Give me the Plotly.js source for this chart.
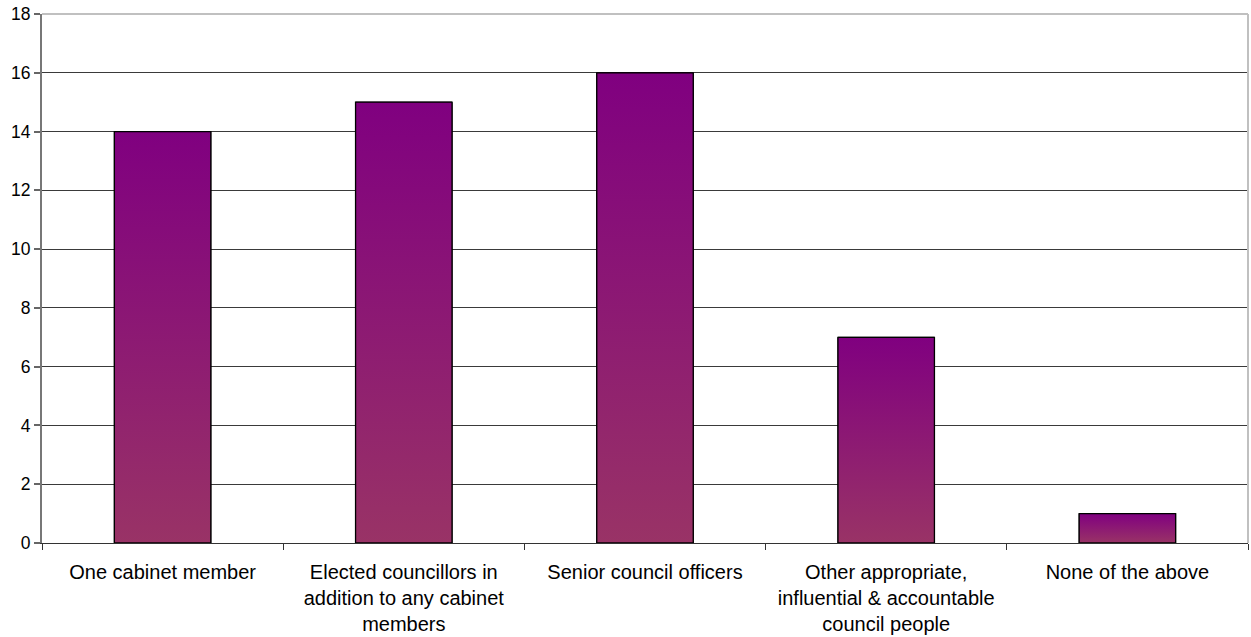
<!DOCTYPE html>
<html>
<head>
<meta charset="utf-8">
<script src="https://cdn.plot.ly/plotly-3.0.1.min.js"></script>
<style>html,body{margin:0;padding:0;background:#fff}#chart{width:1251px;height:637px}</style>
</head>
<body>
<div id="chart"></div>
<script>
const categories = [
  "One cabinet member",
  "Elected councillors in addition to any cabinet members",
  "Senior council officers",
  "Other appropriate, influential & accountable council people",
  "None of the above"
];
const tickLabels = [
  "One cabinet member",
  "Elected councillors in<br>addition to any cabinet<br>members",
  "Senior council officers",
  "Other appropriate,<br>influential & accountable<br>council people",
  "None of the above"
];
const counts = [14, 15, 16, 7, 1];
const yTicks = [0, 2, 4, 6, 8, 10, 12, 14, 16, 18];

const BAR_W = 0.4;
const traces = [{
  type: 'bar',
  x: categories,
  y: counts,
  width: BAR_W,
  marker: {color: '#8c1f74', line: {color: '#000', width: 1}},
  hoverinfo: 'x+y'
}];
// gradient overlay for each bar, positioned by category index on a matching linear axis
counts.forEach(function (v, i) {
  traces.push({
    type: 'scatter',
    xaxis: 'x2', yaxis: 'y',
    x: [i - BAR_W / 2, i + BAR_W / 2, i + BAR_W / 2, i - BAR_W / 2, i - BAR_W / 2],
    y: [0, 0, v, v, 0],
    mode: 'lines',
    fill: 'toself',
    fillgradient: {type: 'vertical', colorscale: [[0, '#993366'], [1, '#800080']]},
    line: {color: '#000', width: 1.3},
    hoverinfo: 'skip',
    showlegend: false
  });
});

const layout = {
  width: 1251, height: 637,
  margin: {l: 42, r: 3, t: 14, b: 94},
  paper_bgcolor: '#fff', plot_bgcolor: '#fff',
  showlegend: false,
  font: {family: '"Liberation Sans", Arial, sans-serif', color: '#000'},
  xaxis: {
    type: 'category',
    range: [-0.5, categories.length - 0.5],
    tickvals: categories,
    ticktext: tickLabels,
    tickson: 'boundaries',
    ticks: 'outside', ticklen: 6, tickcolor: '#333', tickwidth: 1,
    ticklabelstandoff: 11,
    showline: true, linecolor: '#333', linewidth: 1,
    showgrid: false, zeroline: false,
    tickfont: {size: 20, color: '#000'},
    fixedrange: true
  },
  xaxis2: {
    overlaying: 'x',
    range: [-0.5, categories.length - 0.5],
    visible: false,
    fixedrange: true
  },
  yaxis: {
    range: [0, 18],
    tickvals: yTicks,
    ticks: 'outside', ticklen: 6, tickcolor: '#666', tickwidth: 2,
    showline: true, linecolor: '#777', linewidth: 2,
    showgrid: true, gridcolor: '#3a3a3a', gridwidth: 1,
    zeroline: false,
    tickfont: {size: 17.5, color: '#000'},
    fixedrange: true
  },
  shapes: [
    {type: 'line', xref: 'paper', yref: 'paper', x0: 0, x1: 1, y0: 1, y1: 1, line: {color: '#c0c0c0', width: 2}},
    {type: 'line', xref: 'paper', yref: 'paper', x0: 1, x1: 1, y0: 0, y1: 1, line: {color: '#c0c0c0', width: 2}}
  ]
};

Plotly.newPlot('chart', traces, layout, {displayModeBar: false, staticPlot: true});
</script>
</body>
</html>
